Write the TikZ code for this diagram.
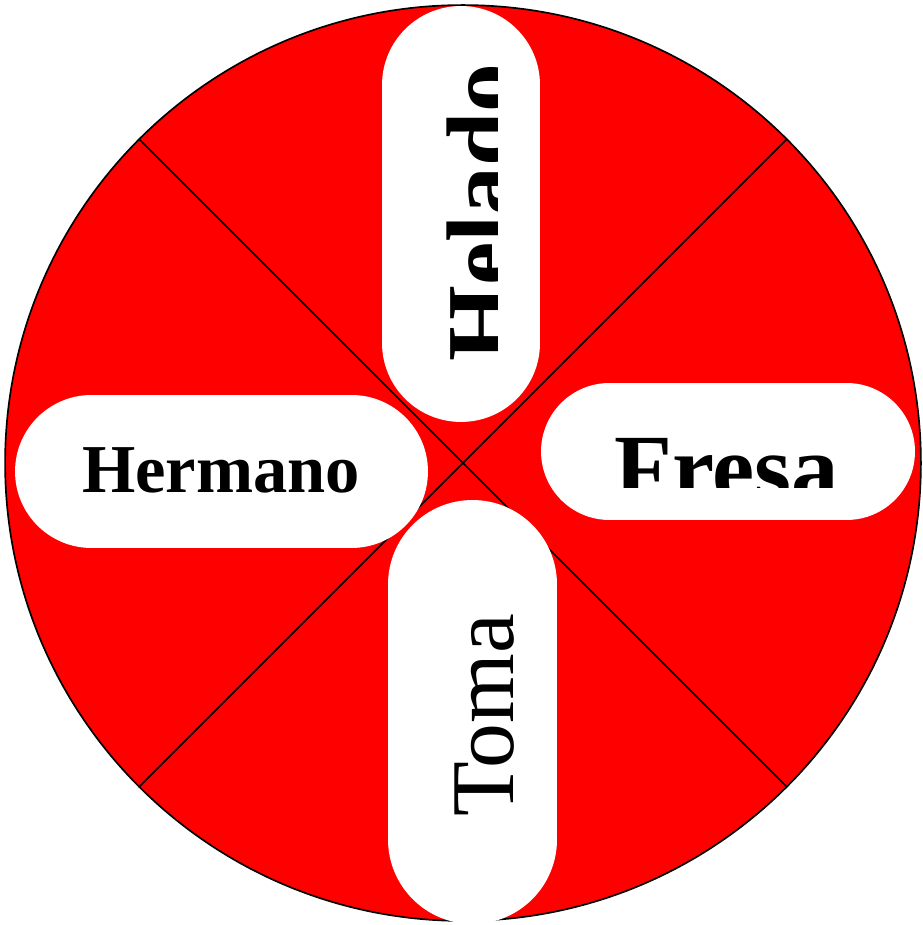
\documentclass[tikz,border=0pt]{standalone}
\usepackage{fontspec}
\setmainfont{Liberation Serif}
\usetikzlibrary{shapes.misc, positioning}

\begin{document}
\begin{tikzpicture}[x=0.02cm, y=0.02cm,
    pill/.style={rounded rectangle, fill=white, inner sep=0pt},
    word/.style={anchor=base, inner sep=0pt}]

    \useasboundingbox (0,0) rectangle (922,925);

    % --- Wheel ---
    \coordinate (c) at (463,462);
    \draw[line width=0.95pt, fill=red] (c) circle[radius=9.16cm];
    \foreach \a/\n in {45/ne, 135/nw, 225/sw, 315/se}
        \path (c) ++(\a:9.16cm) coordinate (\n);
    \draw[line width=0.95pt] (nw) -- (se);
    \draw[line width=0.95pt] (ne) -- (sw);

    % --- Pills ---
    \node[pill, rotate=90, minimum width=8.32cm, minimum height=3.16cm] (heladoPill) at (461,711) {};
    \node[pill, minimum width=7.48cm, minimum height=2.74cm] (fresaPill) at (728,473.5) {};
    \node[pill, minimum width=8.26cm, minimum height=3.06cm] (hermanoPill) at (221.5,453.5) {};
    \node[pill, rotate=90, minimum width=8.48cm, minimum height=3.38cm] (tomaPill) at (472.5,213) {};

    % --- Words ---
    \begin{scope}
        \clip (382,0) rectangle (497,925);
        \node[word, rotate=90, font=\fontsize{55.5}{60}\selectfont\bfseries] (helado) at (514.6,712.5) {Helado};
    \end{scope}
    \begin{scope}
        \clip (530,437) rectangle (922,600);
        \node[word, font=\fontsize{54}{60}\selectfont\bfseries] (fresa) at (726.5,424) {Fresa};
    \end{scope}
    \node[word, font=\fontsize{39}{44}\selectfont\bfseries] (hermano) at (221,432) {Hermano};
    \node[word, rotate=90, font=\fontsize{51}{56}\selectfont] (toma) at (513,209.5) {Toma};

\end{tikzpicture}
\end{document}
